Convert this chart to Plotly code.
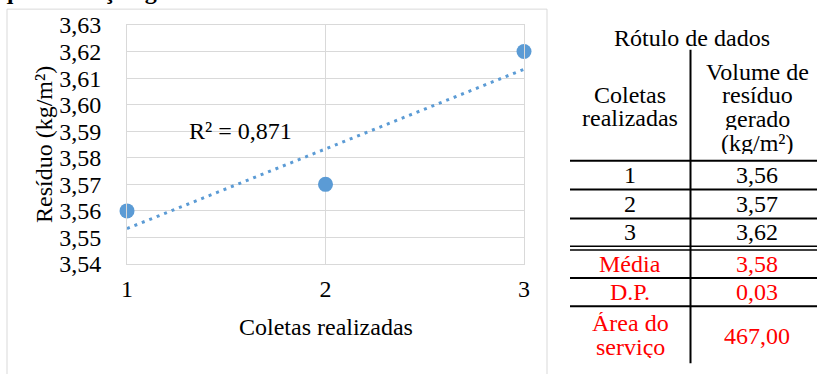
import numpy as np
import plotly.graph_objects as go

# ---- data ----
coletas = [1, 2, 3]
residuo = [3.56, 3.57, 3.62]
y_ticks = [3.54, 3.55, 3.56, 3.57, 3.58, 3.59, 3.60, 3.61, 3.62, 3.63]
y_tick_labels = ["3,54", "3,55", "3,56", "3,57", "3,58", "3,59", "3,60", "3,61", "3,62", "3,63"]
x_ticks = [1, 2, 3]
x_tick_labels = ["1", "2", "3"]
r2_label = "R² = 0,871"
table_rows = ["1", "2", "3"]
table_vals = ["3,56", "3,57", "3,62"]
stat_rows = ["Média", "D.P."]
stat_vals = ["3,58", "0,03"]
area_label = ["Área do", "serviço"]
area_val = "467,00"

W, H = 817, 374
L, R, T, B = 127, 524, 23, 264
BLUE = "#5B9BD5"
GRID = "#D9D9D9"
FONT = "Liberation Serif"
FS = 24
RED = "#FF0000"

def px(x):
    return (x - L) / (R - L)

def py(y):
    return (B - y) / (B - T)

# linear trendline (least squares)
slope, intercept = np.polyfit(coletas, residuo, 1)
xt = np.array([coletas[0], coletas[-1]], dtype=float)
yt = slope * xt + intercept

fig = go.Figure()
fig.add_trace(go.Scatter(x=xt, y=yt, mode="lines",
                         line=dict(color=BLUE, width=3, dash="3px,5px"),
                         hoverinfo="skip", showlegend=False))
fig.add_trace(go.Scatter(x=coletas, y=residuo, mode="markers",
                         marker=dict(color=BLUE, size=15),
                         showlegend=False, cliponaxis=False))

shapes = []
# chart frame
shapes.append(dict(type="rect", xref="paper", yref="paper",
                   x0=px(7), x1=px(547), y0=py(7), y1=py(380),
                   line=dict(color=GRID, width=1), layer="below"))
# table lines
def hline(y, x0=570, x1=820, w=2):
    shapes.append(dict(type="line", xref="paper", yref="paper",
                       x0=px(x0), x1=px(x1), y0=py(y), y1=py(y),
                       line=dict(color="black", width=w)))
shapes.append(dict(type="line", xref="paper", yref="paper",
                   x0=px(690.5), x1=px(690.5), y0=py(48), y1=py(364),
                   line=dict(color="black", width=2)))
for yy in [160, 189, 218, 278, 306.5]:
    hline(yy)
hline(246, w=1.5)
hline(250, w=1.5)

ann = []
def text(x, y, s, size=FS, color="black", xanchor="center", height=None):
    a = dict(xref="paper", yref="paper", x=px(x), y=py(y), text=s,
             showarrow=False, xanchor=xanchor, yanchor="middle",
             font=dict(family=FONT, size=size, color=color))
    if height:
        a["height"] = height
    ann.append(a)

# cut-off heading at top
ann.append(dict(xref="paper", yref="paper", x=px(-2), y=py(4), text="<b>quantificação gerada</b>",
                showarrow=False, xanchor="left", yanchor="bottom",
                font=dict(family=FONT, size=FS, color="black")))

# axis titles
ann.append(dict(xref="paper", yref="paper", x=px(44), y=py(144), text="Resíduo (kg/m²)",
                showarrow=False, textangle=-90, xanchor="center", yanchor="middle",
                font=dict(family=FONT, size=FS, color="black")))
text(325.5, 328, "Coletas realizadas")
# R² label
ann.append(dict(xref="x", yref="y", x=1.57, y=3.59, text=r2_label, showarrow=False,
                xanchor="center", yanchor="middle",
                font=dict(family=FONT, size=FS, color="black")))

# table text
c1, c2 = 630, 757
text(692, 36, "Rótulo de dados")
text(c1, 94, "Coletas", height=22)
text(c1, 117, "realizadas", height=22)
for i, s in enumerate(["Volume de", "resíduo", "gerado", "(kg/m²)"]):
    text(c2, 70 + i * 24, s, height=22)
row_y = [174.5, 203.5, 232]
for yy, a, b in zip(row_y, table_rows, table_vals):
    text(c1, yy, a)
    text(c2, yy, b)
stat_y = [264, 292]
for yy, a, b in zip(stat_y, stat_rows, stat_vals):
    text(c1, yy, a, color=RED)
    text(c2, yy, b, color=RED)
text(c1, 323, area_label[0], color=RED, height=22)
text(c1, 348, area_label[1], color=RED, height=22)
text(c2, 337, area_val, color=RED)

fig.update_layout(
    width=W, height=H,
    margin=dict(l=L, r=W - R, t=T, b=H - B, pad=0),
    paper_bgcolor="white", plot_bgcolor="white",
    shapes=shapes, annotations=ann,
    font=dict(family=FONT, size=FS, color="black"),
    xaxis=dict(range=[1, 3], tickvals=x_ticks, ticktext=x_tick_labels,
               showgrid=True, gridcolor=GRID, gridwidth=1, zeroline=False,
               showline=True, linecolor=GRID, mirror=True,
               ticks="", ticklabelstandoff=3,
               tickfont=dict(family=FONT, size=FS, color="black")),
    yaxis=dict(range=[3.54, 3.63], tickvals=y_ticks, ticktext=y_tick_labels,
               showgrid=True, gridcolor=GRID, gridwidth=1, zeroline=False,
               showline=True, linecolor=GRID, mirror=True,
               ticks="", ticklabelstandoff=20,
               tickfont=dict(family=FONT, size=FS, color="black")),
)

fig.write_html("out.html", config={"displayModeBar": False},
               post_script="document.body.style.margin='0';document.body.style.overflow='hidden';")
